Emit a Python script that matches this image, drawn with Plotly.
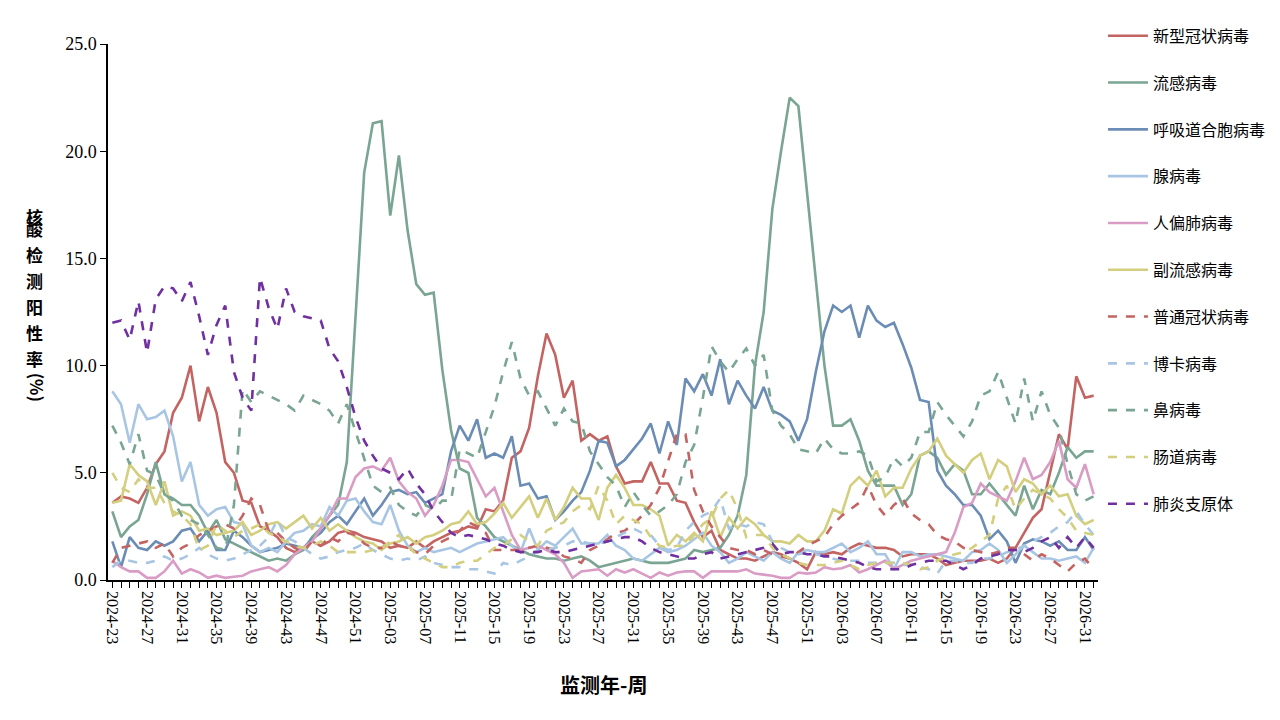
import plotly.graph_objects as go

# weeks 2024-23 .. 2026-32
weeks = ([f"2024-{w:02d}" for w in range(23, 53)]
         + [f"2025-{w:02d}" for w in range(1, 53)]
         + [f"2026-{w:02d}" for w in range(1, 33)])
tick_labels = weeks[::4]

covid = [3.6, 3.9, 3.8, 3.6, 4.3, 5.4, 6.0, 7.8, 8.5, 10.0,
         7.4, 9.0, 7.8, 5.5, 5.0, 3.7, 3.6, 2.5, 2.3, 2.0,
         1.5, 1.3, 1.5, 1.8, 1.6, 1.8, 2.2, 2.3, 2.2, 2.0,
         1.9, 1.8, 1.5, 1.6, 1.5, 1.8, 1.5, 1.8, 2.0, 2.2,
         2.3, 2.5, 2.4, 3.3, 3.2, 3.7, 5.7, 6.0, 7.1, 9.5,
         11.5, 10.5, 8.5, 9.3, 6.5, 6.8, 6.5, 6.7, 5.3, 4.5,
         4.6, 4.6, 5.5, 4.5, 4.5, 3.7, 3.6, 2.7, 2.0, 2.3,
         1.4, 1.2, 1.0, 1.0, 0.9, 1.1, 1.3, 1.2, 1.0, 0.8,
         0.5, 1.3, 1.2, 1.3, 1.2, 1.5, 1.7, 1.6, 1.5, 1.5,
         1.4, 1.1, 1.2, 1.2, 1.2, 1.0, 0.7, 0.8, 0.9, 0.9,
         0.9, 1.0, 0.8, 1.0, 1.5, 2.2, 2.9, 3.3, 5.0, 6.8,
         6.1, 9.5, 8.5, 8.6]
flu = [3.2, 2.0, 2.5, 2.8, 4.0, 5.5, 4.0, 3.8, 3.5, 3.5,
       3.0, 2.2, 2.8, 1.9, 1.7, 1.5, 1.3, 1.1, 0.9, 1.0,
       0.9, 1.2, 1.4, 2.0, 2.4, 3.0, 3.5, 5.5, 12.3, 19.0,
       21.3, 21.4, 17.0, 19.8, 16.3, 13.8, 13.3, 13.4, 9.8, 7.0,
       5.2, 5.0, 2.9, 2.5, 2.0, 1.8, 1.6, 1.4, 1.2, 1.1,
       1.0, 1.0, 0.9, 1.0, 1.1, 0.9, 0.6, 0.7, 0.8, 0.9,
       1.0, 0.9, 0.8, 0.8, 0.8, 0.9, 1.0, 1.4, 1.3, 1.4,
       1.5, 2.1, 3.0, 4.9, 10.0, 12.5, 17.3, 20.0, 22.5, 22.1,
       18.0, 14.2, 10.0, 7.2, 7.2, 7.5, 6.5, 5.1, 4.4, 4.4,
       4.4, 3.5, 4.0, 5.8, 6.0, 5.7, 4.9, 5.4, 5.1, 4.0,
       4.0, 4.5, 4.0, 3.5, 3.0, 4.4, 3.3, 4.2, 4.0, 5.0,
       6.2, 5.7, 6.0, 6.0]
rsv = [1.8, 0.6, 2.0, 1.5, 1.4, 1.8, 1.6, 1.8, 2.3, 2.4,
       1.8, 2.3, 1.4, 1.4, 2.3, 2.0, 1.6, 1.3, 1.4, 1.5,
       1.7, 1.6, 1.5, 1.9, 2.2, 2.7, 3.0, 2.6, 3.2, 3.8,
       3.0, 3.5, 4.1, 4.2, 4.0, 4.1, 3.6, 3.8, 4.0, 6.0,
       7.2, 6.5, 7.5, 5.7, 5.9, 5.7, 6.7, 4.4, 4.5, 3.8,
       3.9, 2.8, 3.2, 3.7, 4.1, 5.1, 6.5, 6.4, 5.3, 5.6,
       6.1, 6.6, 7.3, 5.9, 7.4, 6.3, 9.4, 8.8, 9.6, 8.6,
       10.3, 8.2, 9.3, 8.6, 8.0, 9.0, 7.9, 7.7, 7.4, 6.5,
       7.5, 9.7, 11.6, 12.8, 12.5, 12.8, 11.3, 12.8, 12.1, 11.8,
       12.0, 11.0, 9.9, 8.4, 8.3, 5.1, 4.4, 4.0, 3.5, 3.5,
       3.0, 1.9, 2.3, 1.8, 0.8, 1.7, 1.9, 1.8, 1.6, 1.8,
       1.4, 1.4, 2.0, 1.4]
adeno = [8.8, 8.2, 6.4, 8.2, 7.5, 7.6, 7.9, 6.7, 4.6, 5.5,
         3.5, 3.0, 3.3, 3.4, 2.7, 2.6, 1.6, 1.3, 1.5, 1.3,
         1.8, 2.2, 2.3, 2.6, 2.5, 3.4, 3.0, 3.7, 3.8, 3.2,
         2.7, 2.6, 3.5, 2.3, 1.6, 1.3, 1.5, 1.3, 1.4, 1.5,
         1.3, 1.5, 1.7, 1.8, 1.9, 2.0, 1.6, 1.3, 2.4, 1.4,
         1.8, 1.6, 2.0, 2.4, 1.7, 1.7, 1.7, 2.1, 1.6, 1.4,
         1.0, 0.9, 1.2, 1.5, 1.3, 1.4, 1.6, 1.9, 2.2, 1.6,
         1.3, 0.8, 1.0, 1.3, 1.1, 0.9, 1.3, 1.0, 0.8, 1.3,
         1.4, 1.3, 1.3, 1.5, 1.7, 1.3, 1.5, 1.8, 1.2, 1.2,
         0.5, 1.3, 1.3, 1.1, 1.2, 1.2, 1.1, 1.0, 0.9, 1.3,
         1.4, 1.7, 1.4, 0.8, 1.2, 1.6, 1.3, 1.0, 1.0, 0.9,
         1.0, 1.1, 0.8, 1.5]
hmpv = [0.9, 0.6, 0.4, 0.4, 0.1, 0.1, 0.4, 0.9, 0.3, 0.5,
        0.35, 0.1, 0.2, 0.1, 0.15, 0.2, 0.4, 0.5, 0.6, 0.4,
        0.7, 1.2, 1.5, 1.8, 2.4, 3.0, 3.8, 3.8, 4.8, 5.2,
        5.3, 5.1, 5.7, 4.6, 4.1, 3.8, 3.0, 3.5, 4.4, 5.6,
        5.6, 5.5, 4.7, 3.9, 4.3, 3.2, 2.1, 1.4, 1.5, 1.6,
        1.4, 1.2, 0.8, 0.1, 0.4, 0.45, 0.5, 0.2, 0.5, 0.35,
        0.5, 0.3, 0.1, 0.35, 0.2, 0.35, 0.4, 0.4, 0.1, 0.4,
        0.4, 0.4, 0.4, 0.5, 0.3, 0.25, 0.2, 0.1, 0.1, 0.35,
        0.3, 0.35, 0.6, 0.5, 0.55, 0.7, 0.35, 0.5, 0.7, 0.9,
        0.5, 0.7, 0.9, 1.0, 1.1, 1.2, 1.3, 2.2, 3.4, 3.6,
        4.5, 4.1, 3.9, 3.7, 4.6, 5.7, 4.7, 4.9, 5.5, 6.5,
        4.7, 4.3, 5.4, 4.0]
parainf = [3.6, 3.7, 5.4, 4.9, 4.6, 3.5, 4.6, 3.0, 3.2, 3.0,
           2.3, 2.4, 2.1, 2.2, 2.3, 2.7, 2.1, 2.3, 2.6, 2.7,
           2.4, 2.7, 3.0, 2.4, 2.9, 2.3, 2.6, 2.3, 2.0, 1.8,
           1.7, 1.4, 1.7, 1.8, 2.0, 1.7, 2.0, 2.1, 2.3, 2.6,
           2.7, 3.2, 2.6, 2.7, 3.1, 3.6, 2.9, 3.4, 3.9, 2.9,
           3.8, 2.8, 3.4, 4.3, 3.8, 3.8, 2.8, 4.3, 4.9, 4.3,
           3.5, 3.5, 3.3, 3.0, 1.6, 2.1, 1.8, 2.2, 1.8, 3.2,
           2.0, 2.9, 2.4, 2.9, 2.6, 2.1, 1.8, 1.8, 1.7, 2.1,
           1.8, 1.8, 2.3, 3.3, 3.1, 4.4, 4.8, 4.4, 5.1, 3.9,
           4.3, 4.3, 5.2, 5.8, 6.0, 6.6, 5.8, 5.4, 5.0, 5.6,
           5.9, 4.7, 5.6, 5.3, 4.1, 4.7, 4.5, 4.0, 4.4, 3.9,
           4.0, 3.0, 2.6, 2.8]
hcov = [0.8, 1.5, 1.6, 1.7, 1.8, 1.5, 1.7, 1.1, 1.5, 1.7,
        2.1, 2.3, 2.5, 2.6, 2.4, 3.0, 3.8, 3.5, 2.3, 2.2,
        1.8, 1.5, 1.3, 1.8, 1.6, 2.0, 1.8, 2.2, 2.1, 1.7,
        1.5, 1.5, 1.8, 1.6, 1.5, 1.3, 1.2, 1.6, 1.8, 2.0,
        2.3, 2.7, 2.5, 2.2, 1.4, 1.4, 1.4, 1.4, 1.5, 1.6,
        1.5, 1.4, 1.1, 1.0, 0.8, 1.4, 1.6, 1.9, 2.2, 2.3,
        2.6, 3.0, 3.5, 4.3, 5.5, 6.8, 6.8, 4.2, 3.2, 2.5,
        2.0, 1.5, 1.4, 1.4, 1.2, 1.4, 1.2, 1.1, 1.0, 1.3,
        1.6, 1.8, 2.0, 2.6, 3.0, 3.3, 3.6, 4.4, 3.5, 3.0,
        3.5, 3.8, 3.1, 2.8, 2.6, 2.1, 1.9, 1.8, 1.5, 1.4,
        1.3, 1.2, 1.3, 1.5, 1.5, 1.2, 0.9, 1.2, 1.0, 0.7,
        0.4, 0.8, 1.0, 0.5]
boca = [0.6, 0.9, 0.9, 0.8, 0.8, 0.9, 1.1, 0.9, 1.0, 1.2,
        1.5, 1.2, 1.0, 0.9, 1.0, 1.2, 1.4, 1.6, 2.0, 2.8,
        2.0, 1.8, 1.5, 1.2, 1.0, 1.1, 1.3, 1.4, 1.5, 1.7,
        1.4, 1.2, 1.0, 0.9, 1.0, 0.9, 1.1, 0.8, 0.7, 0.6,
        0.6, 0.5, 0.5, 0.4, 0.3, 0.8, 0.7, 0.9, 1.1, 1.4,
        1.4, 1.5, 1.6, 1.8, 1.8, 1.7, 1.7, 1.8, 2.0, 2.2,
        2.4, 2.2, 2.1, 1.6, 1.4, 1.5, 2.3, 2.7, 3.0, 3.2,
        3.8, 2.4, 2.6, 2.5, 2.7, 2.6, 1.8, 1.5, 1.3, 1.2,
        1.3, 1.2, 1.1, 1.0, 0.9, 0.9, 0.9, 0.8, 0.8, 0.8,
        0.8, 0.7, 0.7, 0.6, 0.5, 0.3, 0.9, 0.9, 0.8, 0.8,
        1.0, 1.0, 1.1, 1.3, 1.4, 1.6, 1.8, 2.0, 2.2, 2.5,
        2.7, 3.2, 2.6, 2.1]
rhino = [7.2, 6.4, 5.4, 6.8, 5.1, 4.9, 4.0, 3.7, 3.0, 2.8,
         2.6, 2.1, 1.5, 1.4, 3.5, 8.9, 8.3, 8.8, 8.6, 8.4,
         8.2, 7.9, 8.6, 8.4, 8.2, 7.9, 7.3, 8.2, 6.9, 5.7,
         4.4, 4.1, 4.3, 3.5, 3.2, 3.0, 3.5, 3.3, 3.7, 3.7,
         6.1, 5.9, 5.7, 6.9, 8.1, 9.7, 11.1, 9.4, 8.6, 8.8,
         8.0, 7.2, 8.0, 7.4, 7.3, 6.0, 5.4, 4.8, 4.4, 3.4,
         4.1, 3.5, 3.0, 3.2, 3.5, 4.0, 5.5, 6.3, 8.5, 10.9,
         10.2, 9.7, 10.3, 10.8, 10.0, 10.5, 7.9, 7.2, 6.8, 6.1,
         6.0, 5.9, 6.6, 6.1, 5.9, 5.9, 6.0, 5.8, 4.6, 4.8,
         5.7, 5.3, 5.7, 6.9, 6.9, 8.3, 7.7, 7.2, 6.7, 7.4,
         8.6, 8.8, 9.7, 8.5, 7.3, 9.4, 7.4, 8.8, 7.7, 7.1,
         5.4, 4.0, 3.7, 3.9]
entero = [5.0, 4.3, 4.1, 4.7, 4.3, 4.3, 3.6, 3.2, 3.0, 2.6,
          1.4, 1.6, 2.6, 2.3, 2.0, 2.3, 2.4, 2.6, 2.2, 2.0,
          1.8, 1.6, 1.5, 1.6, 1.8, 1.6, 1.3, 1.3, 1.3, 1.3,
          1.4, 1.5, 1.8, 2.1, 1.6, 1.2, 1.0, 0.8, 0.6, 0.6,
          0.8, 0.9, 0.9, 1.2, 1.5, 1.6, 1.9, 2.1, 1.8, 1.6,
          2.3, 2.5, 2.7, 3.2, 3.5, 3.3, 4.4, 3.7, 2.6, 3.0,
          2.8, 2.6, 2.0, 1.6, 1.5, 1.6, 1.6, 2.1, 2.6, 2.9,
          3.8, 4.2, 3.3, 2.0, 2.1, 2.1, 1.5, 1.2, 1.0, 0.8,
          0.7, 0.7, 0.7, 0.8, 0.9, 0.7, 0.5, 0.7, 0.8, 0.8,
          0.8, 0.8, 0.7, 0.5, 0.6, 0.9, 1.1, 1.2, 1.3, 1.5,
          1.8, 2.1, 3.8, 4.4, 3.3, 3.8, 4.2, 4.0, 3.8, 3.3,
          2.9, 2.3, 2.2, 2.1]
mp = [12.0, 12.1, 11.2, 13.0, 10.6, 13.1, 13.7, 13.6, 13.0, 13.9,
      12.3, 10.5, 11.9, 12.8, 9.7, 8.5, 7.9, 14.1, 12.7, 11.7,
      13.6, 12.5, 12.3, 12.2, 12.1, 10.8, 10.2, 9.0, 7.6, 6.5,
      5.8, 5.2, 5.0, 4.7, 5.2, 4.5, 4.0, 3.2, 2.7, 2.2,
      2.0, 2.1, 2.0, 1.9, 1.7, 1.6, 1.4, 1.3, 1.3, 1.3,
      1.4, 1.3, 1.3, 1.4, 1.5, 1.6, 1.7, 1.8, 1.9, 2.0,
      2.0, 1.8, 1.5, 1.3, 1.2, 1.1, 1.0, 1.0, 1.2, 1.3,
      1.0, 1.1, 1.2, 1.3, 1.4, 1.5, 1.7, 1.2, 1.3, 1.3,
      1.2, 1.2, 1.1, 1.1, 1.0, 0.9, 0.8, 0.6, 0.5, 0.5,
      0.5, 0.5, 0.7, 0.8, 0.9, 0.9, 0.9, 0.7, 0.5, 0.7,
      1.0, 1.1, 1.2, 1.4, 1.4, 1.3, 1.5, 1.8, 2.0, 1.5,
      2.0, 1.5, 2.0, 1.5]

series = [
    ("新型冠状病毒", covid, "#c46462", "solid"),
    ("流感病毒", flu, "#79a592", "solid"),
    ("呼吸道合胞病毒", rsv, "#6b8db5", "solid"),
    ("腺病毒", adeno, "#a8c6e4", "solid"),
    ("人偏肺病毒", hmpv, "#d99cc4", "solid"),
    ("副流感病毒", parainf, "#d3cf7e", "solid"),
    ("普通冠状病毒", hcov, "#c46462", "dash"),
    ("博卡病毒", boca, "#a8c6e4", "dash"),
    ("鼻病毒", rhino, "#79a592", "dash"),
    ("肠道病毒", entero, "#d3cf7e", "dash"),
    ("肺炎支原体", mp, "#7030a0", "dash"),
]

fig = go.Figure()
for name, vals, color, dash in series:
    fig.add_trace(go.Scatter(
        x=weeks, y=vals, name=name, mode="lines", legendgroup=name,
        line=dict(color=color, width=2.6, dash=dash),
    ))

ticktext = [w if w in tick_labels else "" for w in weeks]

fig.update_layout(
    width=1280, height=720,
    margin=dict(l=100, r=190, t=35, b=148),
    plot_bgcolor="white", paper_bgcolor="white",
    font=dict(family="Liberation Serif, Noto Sans CJK SC", size=16, color="black"),
    showlegend=True,
    legend=dict(x=1.005, y=1.045, xanchor="left", yanchor="top",
                tracegroupgap=23, font=dict(size=16),
                itemwidth=40, maxheight=720),
    xaxis=dict(
        type="category", categoryorder="array", categoryarray=weeks,
        tickmode="array", tickvals=weeks, ticktext=ticktext,
        tickangle=90, ticks="outside", ticklen=6, tickcolor="black",
        showline=True, linecolor="black", linewidth=1.5,
        showgrid=False, range=[-0.5, len(weeks) - 0.5],
        tickfont=dict(size=16),
    ),
    yaxis=dict(
        range=[0, 25], tickvals=[0, 5, 10, 15, 20, 25],
        ticktext=["0.0", "5.0", "10.0", "15.0", "20.0", "25.0"],
        ticks="outside", ticklen=6, tickcolor="black",
        showline=True, linecolor="black", linewidth=1.5,
        showgrid=False, zeroline=False, tickfont=dict(size=18),
    ),
)

# vertical y-axis title, one upright character per line
title_chars = "核酸检测阳性率"
for k, ch in enumerate(title_chars):
    fig.add_annotation(
        text=f"<b>{ch}</b>", xref="paper", yref="paper",
        x=-0.085, y=0.705 - k * 0.0485, showarrow=False,
        font=dict(size=17, family="Noto Sans CJK SC"),
    )
fig.add_annotation(
    text="<b>(%)</b>", xref="paper", yref="paper", x=-0.085, y=0.36,
    showarrow=False, textangle=90, font=dict(size=17, family="Noto Sans CJK SC"),
)
fig.add_annotation(
    text="<b>监测年-周</b>", xref="paper", yref="paper", x=0.5, y=-0.225,
    showarrow=False, font=dict(size=20, family="Noto Sans CJK SC"),
)

fig.write_html("out.html")
